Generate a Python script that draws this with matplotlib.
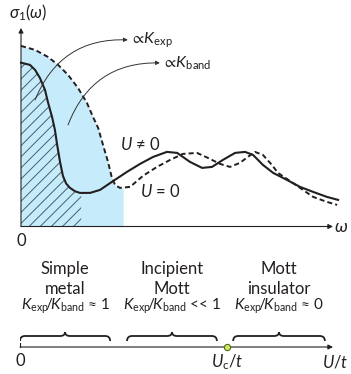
import matplotlib
matplotlib.use('Agg')
import matplotlib.pyplot as plt
import numpy as np
from matplotlib.path import Path
from matplotlib.patches import PathPatch

plt.rcParams['font.family'] = ['Lato', 'DejaVu Sans']
plt.rcParams['mathtext.fontset'] = 'custom'
plt.rcParams['mathtext.rm'] = 'Lato'
plt.rcParams['mathtext.it'] = 'Lato:italic'
plt.rcParams['mathtext.bf'] = 'Lato:bold'
plt.rcParams['mathtext.fallback'] = 'stixsans'
plt.rcParams['hatch.linewidth'] = 0.7

# optical conductivity sketch, U != 0 (solid)
omega_u = [0, 0.28, 0.44, 0.59, 0.75, 0.84, 0.97, 1.06, 1.13, 1.22, 1.31, 1.41, 1.53, 1.69,
           1.84, 2.16, 2.47, 2.84, 3.31, 3.72, 4.13, 4.56, 4.88, 5.28, 5.66, 5.97, 6.31,
           6.69, 7.0, 7.25, 7.56, 7.88, 8.31, 8.72, 9.13, 9.56, 9.91]
sigma_u = [8.19, 8.08, 7.83, 7.43, 6.83, 6.23, 5.48, 4.83, 4.08, 3.23, 2.53, 2.15, 1.93, 1.76,
           1.68, 1.68, 1.83, 2.23, 2.73, 3.13, 3.48, 3.73, 3.68, 3.23, 2.93, 2.98, 3.33,
           3.68, 3.73, 3.58, 3.08, 2.68, 2.33, 1.98, 1.73, 1.48, 1.33]

# U = 0 (dashed)
omega_0 = [0, 0.44, 0.84, 1.16, 1.47, 1.78, 2.06, 2.25, 2.41, 2.5, 2.59, 2.72, 2.84,
           2.94, 3.09, 3.41, 3.81, 4.25, 4.66, 5.06, 5.5, 5.84, 6.22, 6.53, 6.84,
           7.09, 7.31, 7.56, 7.84, 8.03, 8.31, 8.72, 9.13, 9.56, 9.88]
sigma_0 = [9.03, 8.83, 8.48, 8.08, 7.58, 6.93, 6.18, 5.48, 4.93, 4.43, 3.93, 3.23, 2.43,
           2.08, 1.93, 1.98, 2.53, 2.98, 3.33, 3.63, 3.68, 3.43, 3.13, 2.98, 3.18,
           3.48, 3.73, 3.58, 3.08, 2.68, 2.38, 1.93, 1.48, 1.23, 1.08]

omega_cut_band = 3.19   # end of blue area (K_band)
omega_cut_exp = 1.88    # end of hatched area (K_exp)

# lower panel: U/t axis
U_c = 6.61
regimes = [(0.0, 2.88), (3.42, 6.29), (6.81, 9.74)]
regime_names = ['Simple\nmetal', 'Incipient\nMott', 'Mott\ninsulator']
regime_ratio = [
    '$K_{\\mathrm{exp}}\\!/\\!K_{\\mathrm{band}}$ ≈ 1',
    '$K_{\\mathrm{exp}}\\!/\\!K_{\\mathrm{band}}$ << 1',
    '$K_{\\mathrm{exp}}\\!/\\!K_{\\mathrm{band}}$ ≈ 0',
]

ink = '#231f20'
blue = '#c6ecfb'

fig = plt.figure(figsize=(3.51, 3.74), dpi=100)
ax = fig.add_axes([21 / 351, 1 - 226.5 / 374, 320 / 351, 200 / 374])
ax.set_xlim(0, 10)
ax.set_ylim(0, 10)
ax.axis('off')

om0 = np.array(omega_0)
s0 = np.array(sigma_0)
m = om0 <= omega_cut_band
xb = np.append(om0[m], omega_cut_band)
yb = np.append(s0[m], np.interp(omega_cut_band, om0, s0))
ax.fill_between(xb, 0, yb, color=blue, lw=0, zorder=1)

omu = np.array(omega_u)
su = np.array(sigma_u)
m = omu <= omega_cut_exp
xh = np.append(omu[m], omega_cut_exp)
yh = np.append(su[m], np.interp(omega_cut_exp, omu, su))
ax.fill_between(xh, 0, yh, facecolor='none', edgecolor='#46606c', hatch='///', lw=0, zorder=2)

ax.plot(omega_u, sigma_u, color=ink, lw=1.5, zorder=4, clip_on=False, solid_joinstyle='round')
ax.plot(omega_0, sigma_0, color=ink, lw=1.4, dashes=(2.6, 1.6), zorder=4, clip_on=False)

arrow_kw = dict(arrowstyle='-|>', lw=0.8, color=ink, mutation_scale=7, shrinkA=0, shrinkB=0)
ax.annotate('', xy=(0, 9.93), xytext=(0, 0), arrowprops=arrow_kw, annotation_clip=False, zorder=5)
ax.annotate('', xy=(9.75, 0), xytext=(0, 0), arrowprops=arrow_kw, annotation_clip=False, zorder=5)

curve_kw = dict(arrowstyle='-|>', lw=0.7, color='#333333', mutation_scale=6,
                shrinkA=0, shrinkB=0, connectionstyle='arc3,rad=-0.35')
ax.annotate('', xy=(3.34, 9.33), xytext=(0.44, 6.33), arrowprops=curve_kw, zorder=5)
ax.annotate('', xy=(4.34, 8.18), xytext=(1.47, 5.08), arrowprops=curve_kw, zorder=5)
ax.text(3.4, 9.33, '$\\propto\\!K_{\\mathrm{exp}}$', fontsize=11.5, color=ink, va='center', ha='left')
ax.text(4.4, 8.18, '$\\propto\\!K_{\\mathrm{band}}$', fontsize=11.5, color=ink, va='center', ha='left')

ax.text(3.09, 4.08, '$U$ ≠ 0', fontsize=12, color=ink, va='center', ha='left')
ax.text(3.72, 1.73, '$U$ = 0', fontsize=12, color=ink, va='center', ha='left')

ax.text(0.22, 10.7, '$\\sigma_1(\\omega)$', fontsize=12, color=ink, va='center', ha='center')
ax.text(0, -0.7, '0', fontsize=12, color=ink, va='center', ha='center')
ax.text(10.0, 0.0, '$\\omega$', fontsize=13, color=ink, va='center', ha='center')

# lower axis
ax2 = fig.add_axes([20 / 351, 0, 313 / 351, 124 / 374])
ax2.set_xlim(0, 10)
ax2.set_ylim(0, 124)
ax2.axis('off')
ax2.annotate('', xy=(10, 27), xytext=(0, 27), arrowprops=arrow_kw, annotation_clip=False)
ax2.plot([0, 0], [27, 31], color=ink, lw=0.8)
ax2.plot(U_c, 27, 'o', ms=4.5, mfc='#d9e65a', mec='#4b6a1f', mew=0.8, zorder=5)
ax2.text(0, 13, '0', fontsize=12, color=ink, ha='center', va='center')
ax2.text(U_c, 12, '$U_{\\mathrm{c}}/t$', fontsize=12, color=ink, ha='center', va='center')
ax2.text(10.5, 12, '$U/t$', fontsize=12, color=ink, ha='right', va='center')

y_end, y_flat, y_tip, c = 33, 38, 42, 0.16
for (x0, x1), name, ratio in zip(regimes, regime_names, regime_ratio):
    xm = (x0 + x1) / 2
    verts = [(x0, y_end), (x0, y_flat), (x0 + c, y_flat), (xm - c, y_flat),
             (xm, y_flat), (xm, y_tip),
             (xm, y_tip), (xm, y_flat), (xm + c, y_flat), (x1 - c, y_flat),
             (x1, y_flat), (x1, y_end)]
    codes = [Path.MOVETO, Path.CURVE3, Path.CURVE3, Path.LINETO, Path.CURVE3, Path.CURVE3,
             Path.MOVETO, Path.CURVE3, Path.CURVE3, Path.LINETO, Path.CURVE3, Path.CURVE3]
    ax2.add_patch(PathPatch(Path(verts, codes), fill=False, lw=1.3, edgecolor=ink))
    ax2.text(xm, 95, name, fontsize=12, color=ink, ha='center', va='center', linespacing=1.3)
    ax2.text(xm, 68, ratio, fontsize=11, color=ink, ha='center', va='center')

fig.savefig('out.png', dpi=100)
